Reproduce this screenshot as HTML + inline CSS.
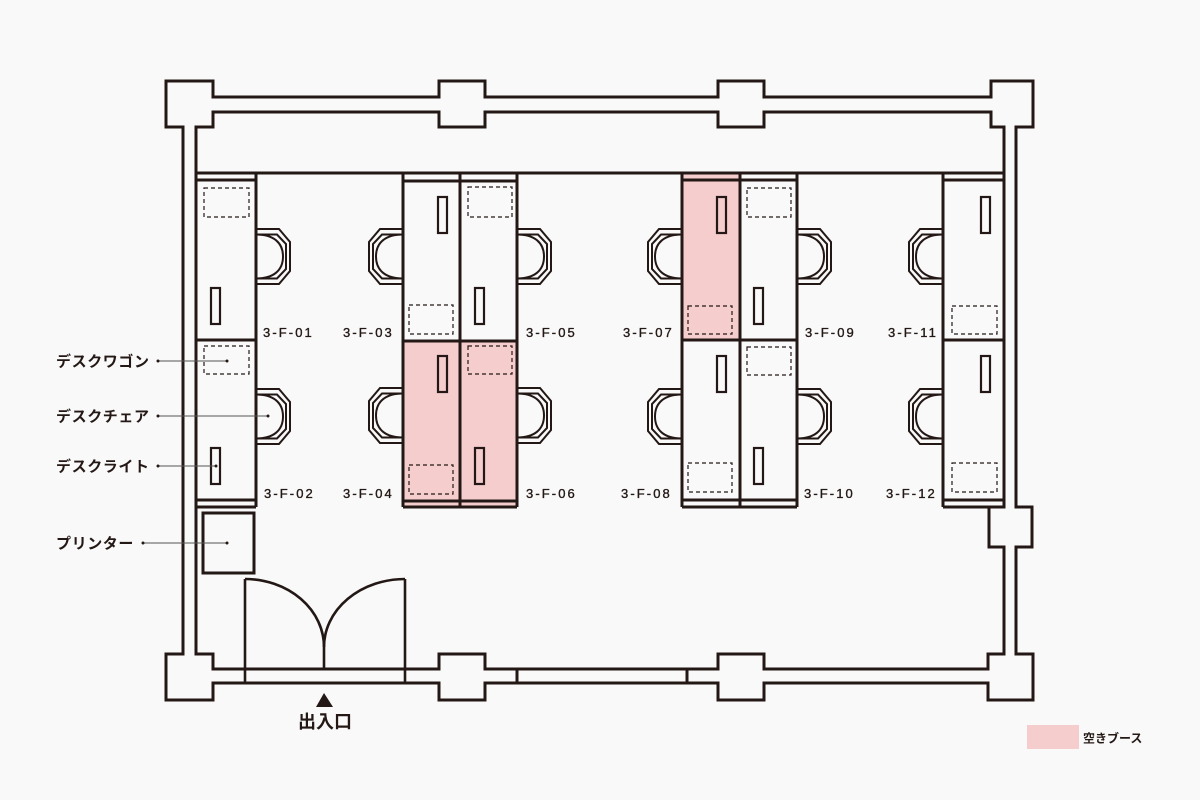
<!DOCTYPE html>
<html>
<head>
<meta charset="utf-8">
<style>
  html,body{margin:0;padding:0;background:#f9f9f9;}
  svg{display:block;}
  .lbl{font-family:"Liberation Sans","Noto Sans CJK JP",sans-serif;font-size:13px;letter-spacing:2.1px;fill:#231815;stroke:#231815;stroke-width:0.35;}
  .jp{font-family:"Liberation Sans","Noto Sans CJK JP",sans-serif;font-weight:bold;fill:#231815;}
</style>
</head>
<body>
<svg width="1200" height="800" viewBox="0 0 1200 800" xmlns="http://www.w3.org/2000/svg">
  <defs>
    <g id="chair" fill="none" stroke="#231815" stroke-width="2" stroke-linejoin="miter">
      <path d="M0,0 H23 L34,13 V42 L23,55 H0"/>
      <path d="M0,5.5 H21 L30,15 V40 L21,49.5 H0"/>
      <path d="M0,5.5 C18,5.5 27,14 27,27.5 C27,41 18,49.5 0,49.5"/>
    </g>
  </defs>

  <rect x="0" y="0" width="1200" height="800" fill="#f9f9f9"/>

  <!-- pink free booths -->
  <rect x="403" y="341" width="57" height="166" fill="#f5cdcd"/>
  <rect x="460" y="341" width="57" height="166" fill="#f5cdcd"/>
  <rect x="682" y="173" width="58" height="167" fill="#f5cdcd"/>

  <!-- walls -->
  <g fill="none" stroke="#231815" stroke-width="3" stroke-linejoin="miter">
    <path d="M166,81 H213 V97 H439 V81 H485 V97 H718 V81 H764 V97 H991 V81 H1033 V127 H1016 V507 H1032 V547 H1016 V654 H1033 V700 H988 V683 H764 V700 H718 V683 H485 V700 H439 V683 H213 V700 H166 V654 H183 V127 H166 Z"/>
    <path d="M196,127 H213 V112 H439 V127 H485 V112 H718 V127 H764 V112 H991 V127 H1004 V507 H989 V547 H1004 V654 H988 V669 H764 V654 H718 V669 H485 V654 H439 V669 H213 V654 H196 Z"/>
    <path d="M196,173 H1004"/>
    <path d="M517,669 V683 M687,669 V683"/>
  </g>

  <!-- door -->
  <g fill="none" stroke="#231815" stroke-width="2.6">
    <path d="M245,579 V683 M405,579 V683"/>
    <path d="M245,579 A79,68 0 0 1 324,647 V669"/>
    <path d="M405,579 A81,68 0 0 0 324,647"/>
  </g>

  <!-- desks -->
  <g fill="none" stroke="#231815" stroke-width="3">
    <path d="M256,173 V507 M196,180 H256 M196,340 H256 M196,500 H256 M196,507 H256"/>
    <path d="M403,173 V507 M460,173 V507 M517,173 V507 M403,181 H517 M403,341 H517 M403,501 H517 M403,507 H517"/>
    <path d="M682,173 V507 M740,173 V507 M797,173 V507 M682,180 H797 M682,340 H797 M682,500 H797 M682,507 H797"/>
    <path d="M943,173 V507 M943,180 H1004 M943,340 H1004 M943,500 H1004 M943,507 H1004"/>
    <rect x="203" y="513" width="51" height="60"/>
  </g>

  <!-- desk lamps -->
  <g fill="none" stroke="#231815" stroke-width="2.2">
    <rect x="211" y="288" width="9" height="36"/>
    <rect x="211" y="448" width="9" height="36"/>
    <rect x="438" y="197" width="9" height="36"/>
    <rect x="438" y="356" width="9" height="36"/>
    <rect x="475" y="288" width="9" height="36"/>
    <rect x="475" y="448" width="9" height="36"/>
    <rect x="717" y="197" width="9" height="36"/>
    <rect x="717" y="356" width="9" height="36"/>
    <rect x="754" y="288" width="9" height="36"/>
    <rect x="754" y="448" width="9" height="36"/>
    <rect x="981" y="197" width="9" height="36"/>
    <rect x="981" y="356" width="9" height="36"/>
  </g>

  <!-- wagons (dashed) -->
  <g fill="none" stroke="#231815" stroke-width="1.2" stroke-dasharray="4 3">
    <rect x="204" y="188" width="45" height="29"/>
    <rect x="204" y="346" width="45" height="28"/>
    <rect x="409" y="305" width="44" height="29"/>
    <rect x="409" y="465" width="44" height="29"/>
    <rect x="468" y="187" width="44" height="30"/>
    <rect x="468" y="346" width="44" height="28"/>
    <rect x="688" y="306" width="44" height="28"/>
    <rect x="688" y="463" width="44" height="29"/>
    <rect x="747" y="188" width="44" height="29"/>
    <rect x="747" y="347" width="44" height="28"/>
    <rect x="952" y="306" width="45" height="28"/>
    <rect x="952" y="463" width="45" height="29"/>
  </g>

  <!-- chairs -->
  <use href="#chair" transform="translate(256,229)"/>
  <use href="#chair" transform="translate(256,389)"/>
  <use href="#chair" transform="translate(403,229) scale(-1,1)"/>
  <use href="#chair" transform="translate(403,388) scale(-1,1)"/>
  <use href="#chair" transform="translate(517,229)"/>
  <use href="#chair" transform="translate(517,388)"/>
  <use href="#chair" transform="translate(682,229) scale(-1,1)"/>
  <use href="#chair" transform="translate(682,389) scale(-1,1)"/>
  <use href="#chair" transform="translate(797,229)"/>
  <use href="#chair" transform="translate(797,389)"/>
  <use href="#chair" transform="translate(943,229) scale(-1,1)"/>
  <use href="#chair" transform="translate(943,389) scale(-1,1)"/>

  <!-- desk labels -->
  <text class="lbl" x="263" y="337">3-F-01</text>
  <text class="lbl" x="264" y="498">3-F-02</text>
  <text class="lbl" x="343" y="337">3-F-03</text>
  <text class="lbl" x="343" y="498">3-F-04</text>
  <text class="lbl" x="526" y="337">3-F-05</text>
  <text class="lbl" x="526" y="498">3-F-06</text>
  <text class="lbl" x="623" y="337">3-F-07</text>
  <text class="lbl" x="621" y="498">3-F-08</text>
  <text class="lbl" x="805" y="337">3-F-09</text>
  <text class="lbl" x="804" y="498">3-F-10</text>
  <text class="lbl" x="888" y="337">3-F-11</text>
  <text class="lbl" x="886" y="498">3-F-12</text>

  <!-- callouts -->
  <g stroke="#555" stroke-width="0.9" fill="none">
    <path d="M158,361 H227 M158,416 H268 M158,466 H216 M143,543 H227"/>
  </g>
  <g fill="#231815">
    <circle cx="158" cy="361" r="1.5"/><circle cx="227" cy="361" r="1.5"/>
    <circle cx="158" cy="416" r="1.5"/><circle cx="268" cy="416" r="1.5"/>
    <circle cx="158" cy="466" r="1.5"/><circle cx="216" cy="466" r="1.5"/>
    <circle cx="143" cy="543" r="1.5"/><circle cx="227" cy="543" r="1.5"/>
  </g>
  <text class="jp" x="56" y="366.5" font-size="15" letter-spacing="0.6">デスクワゴン</text>
  <text class="jp" x="56" y="421.5" font-size="15" letter-spacing="0.6">デスクチェア</text>
  <text class="jp" x="56" y="471.5" font-size="15" letter-spacing="0.6">デスクライト</text>
  <text class="jp" x="56" y="548.5" font-size="15" letter-spacing="0.6">プリンター</text>

  <!-- entrance -->
  <polygon points="324,693 316,707 333,707" fill="#231815"/>
  <text class="jp" x="298" y="728" font-size="18">出入口</text>

  <!-- legend -->
  <rect x="1027" y="725" width="52" height="24" fill="#f5cdcd"/>
  <text class="jp" x="1083" y="742.5" font-size="12">空きブース</text>
</svg>
</body>
</html>
